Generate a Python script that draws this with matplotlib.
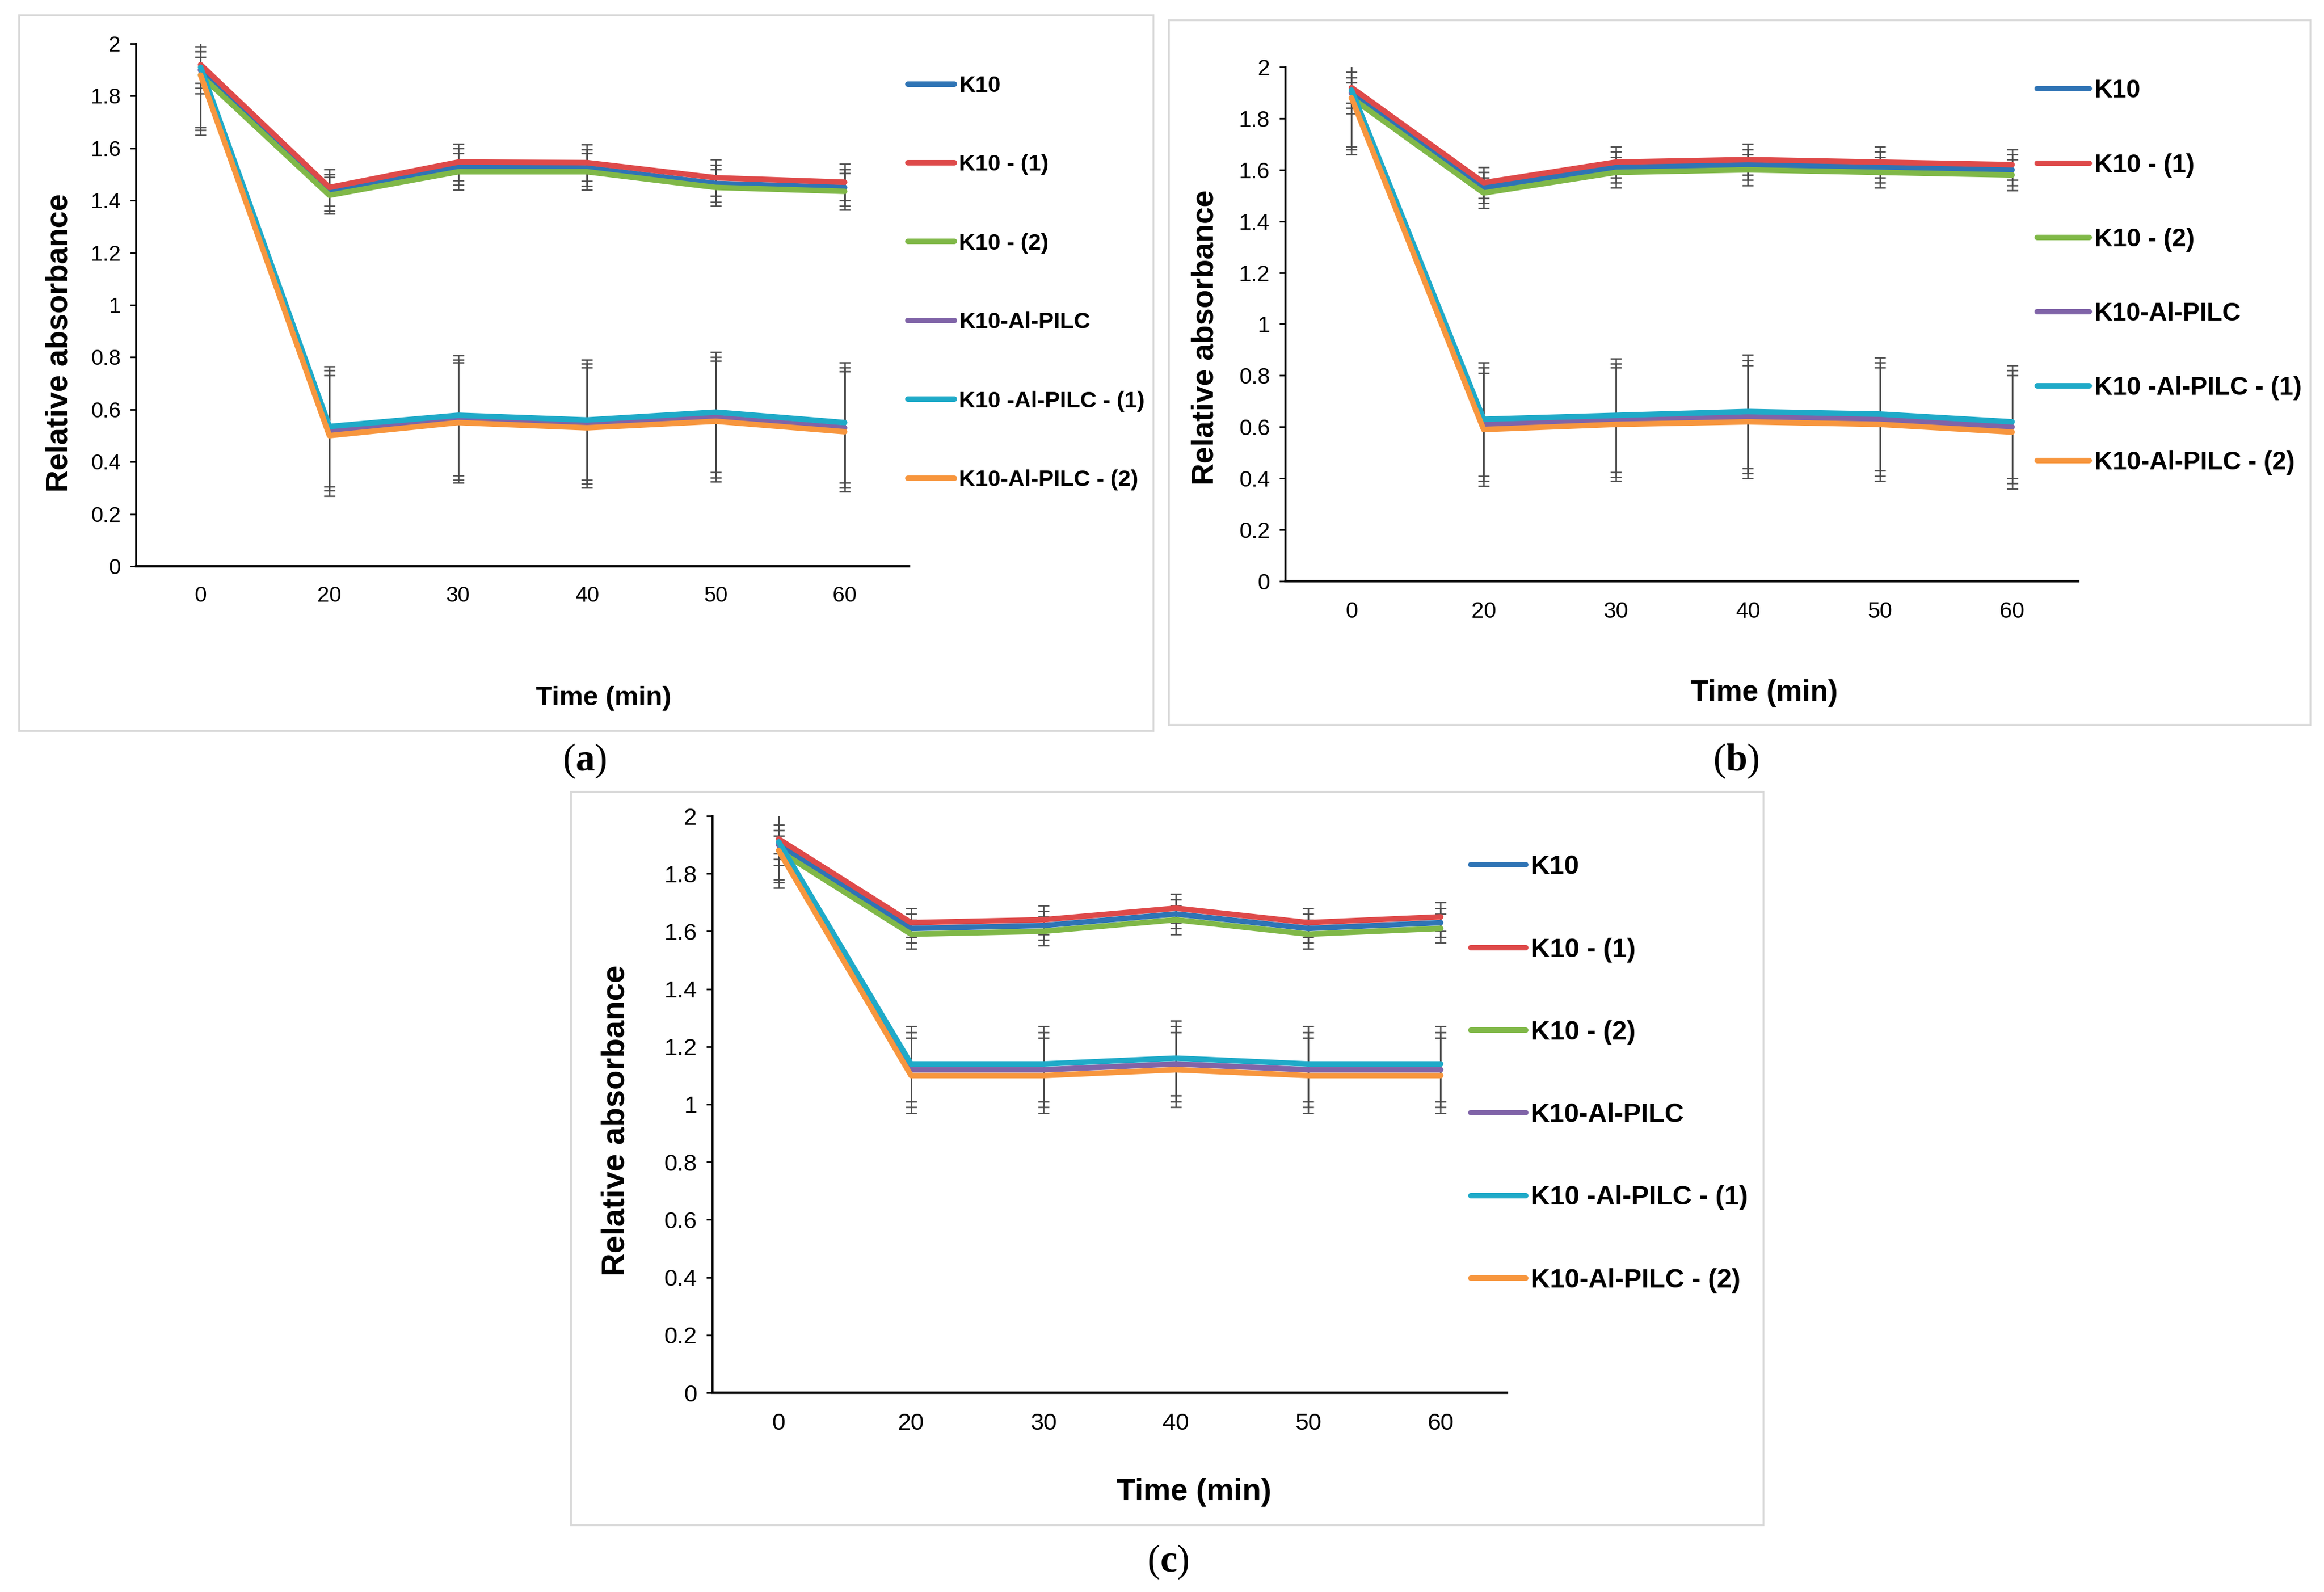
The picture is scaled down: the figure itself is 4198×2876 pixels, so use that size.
import numpy as np
import matplotlib
matplotlib.use("Agg")
import matplotlib.pyplot as plt
from matplotlib.patches import Rectangle
from matplotlib.ticker import FuncFormatter, MultipleLocator

plt.rcParams['font.family'] = ['Liberation Sans', 'DejaVu Sans']
plt.rcParams['mathtext.fontset'] = 'custom'
plt.rcParams['mathtext.rm'] = 'Liberation Serif'
plt.rcParams['mathtext.bf'] = 'Liberation Serif:bold'

# data
time_labels = ["0", "20", "30", "40", "50", "60"]
series_names = ["K10", "K10 - (1)", "K10 - (2)", "K10-Al-PILC",
                "K10 -Al-PILC - (1)", "K10-Al-PILC - (2)"]

# panel (a)
a_k10 = [1.90, 1.43, 1.53, 1.525, 1.465, 1.45]
a_k10_1 = [1.92, 1.45, 1.547, 1.545, 1.487, 1.47]
a_k10_2 = [1.88, 1.42, 1.51, 1.51, 1.45, 1.435]
a_pilc = [1.90, 0.52, 0.56, 0.545, 0.57, 0.53]
a_pilc_1 = [1.91, 0.535, 0.578, 0.56, 0.59, 0.55]
a_pilc_2 = [1.88, 0.50, 0.55, 0.53, 0.555, 0.515]
a_err = [0.07, 0.07, 0.07, 0.23, 0.23, 0.23]

# panel (b)
b_k10 = [1.90, 1.53, 1.61, 1.62, 1.61, 1.60]
b_k10_1 = [1.92, 1.55, 1.63, 1.64, 1.63, 1.62]
b_k10_2 = [1.88, 1.51, 1.59, 1.60, 1.59, 1.58]
b_pilc = [1.90, 0.61, 0.625, 0.64, 0.63, 0.60]
b_pilc_1 = [1.91, 0.63, 0.645, 0.66, 0.65, 0.62]
b_pilc_2 = [1.88, 0.59, 0.61, 0.62, 0.61, 0.58]
b_err = [0.06, 0.06, 0.06, 0.22, 0.22, 0.22]

# panel (c)
c_k10 = [1.90, 1.61, 1.62, 1.66, 1.61, 1.63]
c_k10_1 = [1.92, 1.63, 1.64, 1.68, 1.63, 1.65]
c_k10_2 = [1.88, 1.59, 1.60, 1.64, 1.59, 1.61]
c_pilc = [1.90, 1.12, 1.12, 1.14, 1.12, 1.12]
c_pilc_1 = [1.91, 1.14, 1.14, 1.16, 1.14, 1.14]
c_pilc_2 = [1.88, 1.10, 1.10, 1.12, 1.10, 1.10]
c_err = [0.05, 0.05, 0.05, 0.13, 0.13, 0.13]

colors = ['#2F74B5', '#DE4A4A', '#80B848', '#8064A8', '#1FAAC8', '#F7963E']

W, H = 4198, 2876
fig = plt.figure(figsize=(W / 200, H / 200), dpi=200)


def fx(x):
    return x / W


def fy(y):
    return 1 - y / H


# pixel layout of each panel: frame, plot area, labels, legend, font sizes
panels = [
    dict(tag='a', data=[a_k10, a_k10_1, a_k10_2, a_pilc, a_pilc_1, a_pilc_2], err=a_err,
         frame=(34, 27, 2083, 1320), plot=(246, 79, 1642, 1023),
         ylab=(108, 619), xlab=(1090, 1261), leg=(1640, 511), spacing=2.54,
         tick_fs=14, leg_fs=14.8, xlab_fs=17.5, ylab_fs=20, tagpos=(1056, 1375)),
    dict(tag='b', data=[b_k10, b_k10_1, b_k10_2, b_pilc, b_pilc_1, b_pilc_2], err=b_err,
         frame=(2111, 36, 4173, 1309), plot=(2322, 121, 3754, 1050),
         ylab=(2178, 610), xlab=(3187, 1252), leg=(3680, 500), spacing=1.97,
         tick_fs=14.5, leg_fs=16.5, xlab_fs=19, ylab_fs=19.7, tagpos=(3136, 1375)),
    dict(tag='c', data=[c_k10, c_k10_1, c_k10_2, c_pilc, c_pilc_1, c_pilc_2], err=c_err,
         frame=(1031, 1430, 3185, 2755), plot=(1287, 1474, 2722, 2516),
         ylab=(1113, 2024), xlab=(2157, 2696), leg=(2657, 1940), spacing=2.17,
         tick_fs=15.5, leg_fs=17.3, xlab_fs=20, ylab_fs=20.8, tagpos=(2110, 2822)),
]

x = np.arange(len(time_labels))

for p in panels:
    x0, y0, x1, y1 = p['frame']
    fig.patches.append(Rectangle((fx(x0), fy(y1)), fx(x1) - fx(x0), fy(y0) - fy(y1),
                                 transform=fig.transFigure, fill=False,
                                 edgecolor='#D9D9D9', linewidth=1.2))

    l, t, r, b = p['plot']
    ax = fig.add_axes([fx(l), fy(b), fx(r) - fx(l), fy(t) - fy(b)])

    handles = []
    for vals, e, name, col in zip(p['data'], p['err'], series_names, colors):
        ax.errorbar(x, vals, yerr=e, fmt='none', ecolor='#4A4A4A', elinewidth=0.9,
                    capsize=3.6, capthick=0.9, zorder=2)
        ln, = ax.plot(x, vals, color=col, linewidth=3.6, label=name,
                      solid_capstyle='round', zorder=3)
        handles.append(ln)

    ax.set_xlim(-0.5, len(time_labels) - 0.5)
    ax.set_ylim(0, 2)
    ax.set_xticks(x)
    ax.set_xticklabels(time_labels)
    ax.yaxis.set_major_locator(MultipleLocator(0.2))
    ax.yaxis.set_major_formatter(FuncFormatter(lambda v, pos: '%g' % round(v, 1)))
    ax.tick_params(axis='x', length=0, pad=13, labelsize=p['tick_fs'])
    ax.tick_params(axis='y', length=4, width=1.0, pad=6, labelsize=p['tick_fs'],
                   direction='out')
    for s in ['top', 'right']:
        ax.spines[s].set_visible(False)
    ax.spines['left'].set_linewidth(1.3)
    ax.spines['bottom'].set_linewidth(1.6)

    fig.text(fx(p['ylab'][0]), fy(p['ylab'][1]), 'Relative absorbance', rotation=90,
             ha='center', va='center', fontsize=p['ylab_fs'], fontweight='bold')
    fig.text(fx(p['xlab'][0]), fy(p['xlab'][1]), 'Time (min)',
             ha='center', va='center', fontsize=p['xlab_fs'], fontweight='bold')

    fig.legend(handles=handles, loc='center left',
               bbox_to_anchor=(fx(p['leg'][0]), fy(p['leg'][1])),
               frameon=False, borderpad=0, borderaxespad=0,
               handlelength=2.05, handletextpad=0.2, labelspacing=p['spacing'],
               prop={'size': p['leg_fs'], 'weight': 'bold'})

    fig.text(fx(p['tagpos'][0]), fy(p['tagpos'][1]), '($\\mathbf{%s}$)' % p['tag'],
             ha='center', va='center', fontsize=25, family='Liberation Serif')

fig.savefig('out.png', dpi=200, facecolor='white')
